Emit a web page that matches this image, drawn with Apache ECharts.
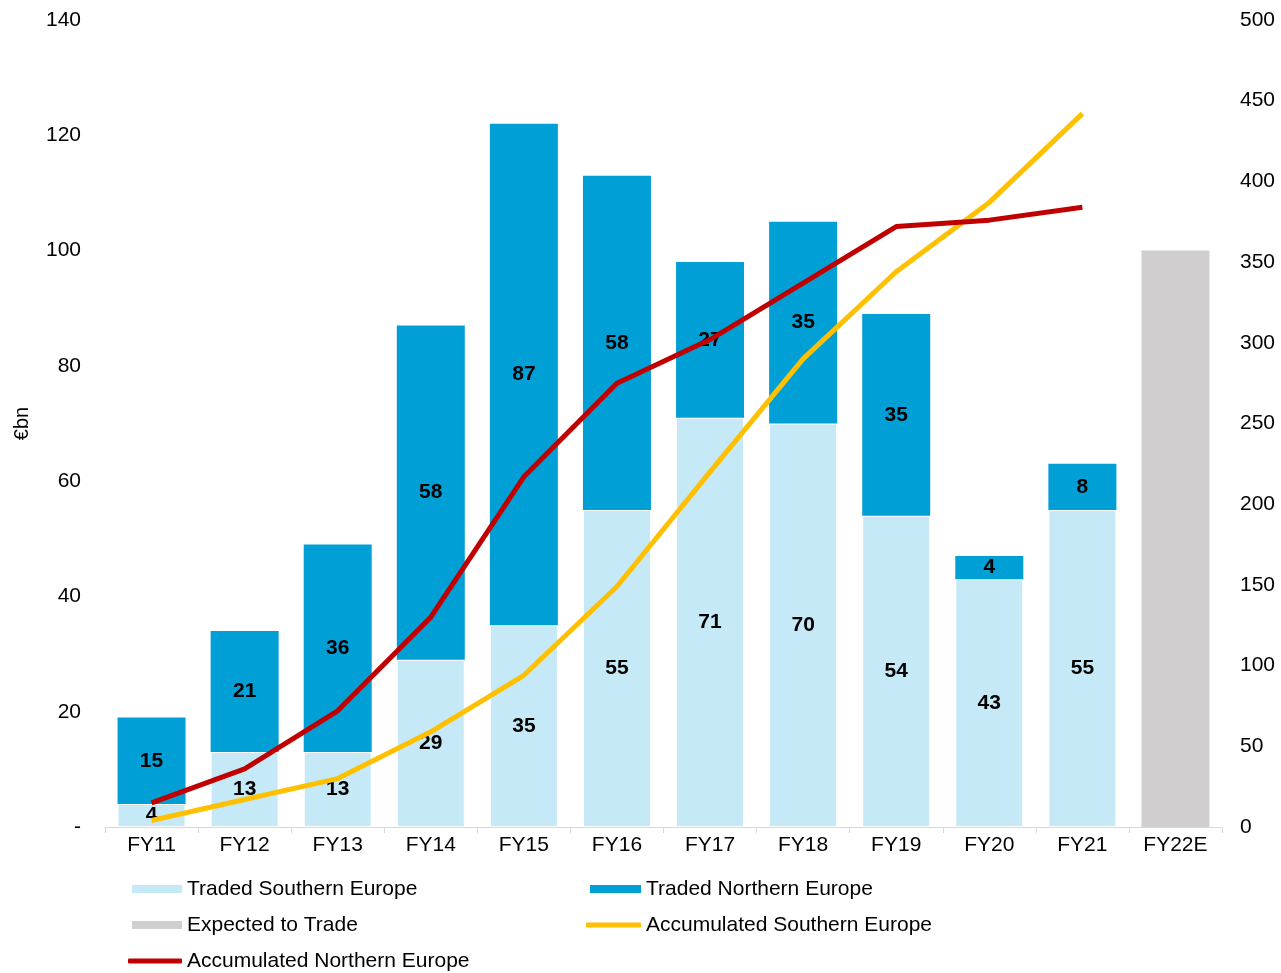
<!DOCTYPE html>
<html>
<head>
<meta charset="utf-8">
<script src="https://cdn.jsdelivr.net/npm/echarts@6/dist/echarts.min.js"></script>
<style>html,body{margin:0;padding:0;background:#fff;}#c{width:1281px;height:973px;}</style>
</head>
<body>
<div id="c"></div>
<script>
var categories = ['FY11','FY12','FY13','FY14','FY15','FY16','FY17','FY18','FY19','FY20','FY21','FY22E'];
var tradedSouthern = [4,13,13,29,35,55,71,70,54,43,55,null];
var tradedNorthern = [15,21,36,58,87,58,27,35,35,4,8,null];
var expectedToTrade = [null,null,null,null,null,null,null,null,null,null,null,100];
var accSouthern = [4,17,30,59,94,149,220,290,344,387,442,null];
var accNorthern = [15,36,72,130,217,275,302,337,372,376,384,null];
var leftTicks = {min:0, max:140, interval:20};
var rightTicks = {min:0, max:500, interval:50};

var FONT = 'Liberation Sans, Arial, sans-serif';
var FS = 21;
var chart = echarts.init(document.getElementById('c'), null, {renderer:'canvas'});
var lbl = {show:true, position:'inside', color:'#000', fontWeight:'bold', fontSize:FS, fontFamily:FONT};
function legendItem(name, left, top, icon, w, h) {
  return {data:[name], left:left, top:top, icon:icon, itemWidth:w, itemHeight:h, itemGap:0, padding:0,
    itemStyle:{borderWidth:0},
    textStyle:{fontSize:FS, fontFamily:FONT, color:'#000', lineHeight:24}, selectedMode:false};
}
chart.setOption({
  animation:false,
  grid:{left:105, right:59, top:20, bottom:146},
  legend:[
    legendItem('Traded Southern Europe', 132, 877, 'rect', 50, 8),
    legendItem('Traded Northern Europe', 590, 877, 'rect', 51, 8),
    legendItem('Expected to Trade', 132, 913, 'rect', 50, 8),
    legendItem('Accumulated Southern Europe', 586, 913, 'roundRect', 55, 5),
    legendItem('Accumulated Northern Europe', 128, 949, 'roundRect', 54, 5)
  ],
  xAxis:{type:'category', data:categories, boundaryGap:true,
    axisLine:{lineStyle:{color:'#d9d9d9', width:1}},
    axisTick:{show:true, interval:0, length:6, lineStyle:{color:'#d9d9d9'}},
    axisLabel:{color:'#000', fontSize:FS, fontFamily:FONT, margin:8, interval:0}},
  yAxis:[
    {type:'value', min:leftTicks.min, max:leftTicks.max, interval:leftTicks.interval,
     name:'€bn', nameLocation:'middle', nameGap:73, nameRotate:90,
     nameTextStyle:{color:'#000', fontSize:20, fontFamily:FONT},
     axisLine:{show:false}, axisTick:{show:false}, splitLine:{show:false},
     axisLabel:{color:'#000', fontSize:FS, fontFamily:FONT, margin:24,
       formatter:function(v){return v===0?'-':String(v);}}},
    {type:'value', min:rightTicks.min, max:rightTicks.max, interval:rightTicks.interval,
     position:'right', axisLine:{show:false}, axisTick:{show:false}, splitLine:{show:false},
     axisLabel:{color:'#000', fontSize:FS, fontFamily:FONT, margin:18}}
  ],
  series:[
    {name:'Traded Southern Europe', type:'bar', stack:'a', data:tradedSouthern, barWidth:68,
     itemStyle:{color:'#C5E9F6', borderColor:'#fff', borderWidth:1}, label:lbl},
    {name:'Traded Northern Europe', type:'bar', stack:'a', data:tradedNorthern, barWidth:68,
     itemStyle:{color:'#009FD6'}, label:lbl},
    {name:'Expected to Trade', type:'bar', stack:'a', data:expectedToTrade, barWidth:68,
     itemStyle:{color:'#D0CECE'}},
    {name:'Accumulated Southern Europe', type:'line', yAxisIndex:1, data:accSouthern,
     showSymbol:false, symbol:'none', lineStyle:{color:'#FFC000', width:5}, itemStyle:{color:'#FFC000'}, z:5},
    {name:'Accumulated Northern Europe', type:'line', yAxisIndex:1, data:accNorthern,
     showSymbol:false, symbol:'none', lineStyle:{color:'#C00000', width:5}, itemStyle:{color:'#C00000'}, z:6}
  ]
});
</script>
</body>
</html>
